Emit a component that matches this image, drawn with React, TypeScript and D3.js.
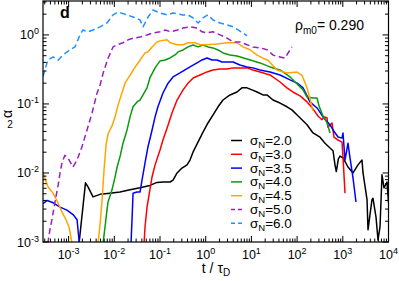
import * as d3 from "d3";

// sigma_N values and alpha_2(t) curves, t in units of tau_D
const sigmaLabels = ["2.0", "3.0", "3.5", "4.0", "4.5", "5.0", "6.0"];
const seriesColors = ["#000000", "#ff0000", "#0000ff", "#0a9a0a", "#ffa500", "#9a1fc0", "#1e90ff"];

const sigma20 = [[1.69e-3,0.00095],[2.34e-3,0.0072],[2.66e-3,0.0063],[3.42e-3,0.0045],[4.86e-3,0.0049],[8.0e-3,0.0051],[1.33e-2,0.0053],[2.21e-2,0.0057],[3.65e-2,0.0061],[6.0e-2,0.0066],[8.6e-2,0.0073],[0.116,0.0074],[0.166,0.0074],[0.193,0.0079],[0.236,0.0100],[0.303,0.0118],[0.39,0.0131],[0.453,0.0154],[0.527,0.020],[0.678,0.028],[0.873,0.039],[1.12,0.053],[1.44,0.069],[1.86,0.091],[2.39,0.114],[3.4,0.135],[4.84,0.149],[6.2,0.171],[8.0,0.171],[10.3,0.160],[13.3,0.149],[17.9,0.135],[21.9,0.135],[29.7,0.114],[42.3,0.103],[60,0.091],[77,0.082],[100,0.069],[128,0.059],[165,0.05],[223,0.038],[317,0.033],[408,0.027],[525,0.023],[611,0.021],[676,0.013],[720,0.0105],[800,0.016],[869,0.0176],[1010,0.0165],[1300,0.0122],[1672,0.010],[2150,0.0131],[2630,0.0154],[2770,0.010],[3390,0.0041],[3560,0.0015],[4350,0.0041],[4580,0.0043],[5330,0.0023],[5890,0.00107],[6520,0.00165],[7210,0.0094],[7980,0.0061],[9270,0.0074],[1e4,0.0037]];

const sigma30 = [[4.47e-2,0.00095],[4.7e-2,0.00165],[5.2e-2,0.0032],[6.0e-2,0.0057],[6.7e-2,0.0088],[7.8e-2,0.0131],[0.1,0.0215],[0.116,0.030],[0.143,0.045],[0.183,0.074],[0.236,0.114],[0.32,0.16],[0.41,0.2],[0.53,0.238],[0.75,0.263],[1.07,0.291],[1.44,0.311],[2.06,0.322],[2.93,0.322],[3.96,0.333],[5.62,0.333],[8.0,0.333],[10.8,0.311],[15.4,0.291],[25.5,0.263],[42.3,0.208],[60,0.171],[81,0.149],[116,0.131],[165,0.107],[223,0.085],[286,0.067],[351,0.059],[388,0.065],[451,0.063],[474,0.046],[580,0.053],[641,0.033],[785,0.030],[960,0.028],[1010,0.0171],[1117,0.0051]];

const sigma35Early = [[2.75e-4,0.0036],[3.4e-4,0.0040],[4.6e-4,0.0037],[6.5e-4,0.0032],[9.2e-4,0.0029],[1.25e-3,0.0025],[1.53e-3,0.0021],[1.72e-3,0.00095]];
const sigma35 = [[2.32e-2,0.00095],[2.44e-2,0.0021],[2.57e-2,0.0051],[3.14e-2,0.0053],[3.65e-2,0.0053],[4.04e-2,0.0079],[4.7e-2,0.014],[5.46e-2,0.024],[6.7e-2,0.042],[7.8e-2,0.065],[9.0e-2,0.091],[0.116,0.144],[0.15,0.2],[0.193,0.246],[0.274,0.281],[0.352,0.311],[0.453,0.344],[0.645,0.393],[0.83,0.434],[1.07,0.464],[1.37,0.434],[1.77,0.434],[2.27,0.406],[2.93,0.406],[3.96,0.406],[5.62,0.367],[8.0,0.344],[10.8,0.333],[15.4,0.311],[25.5,0.291],[42.3,0.263],[70,0.223],[100,0.2],[135,0.171],[165,0.131],[191,0.107],[273,0.0875],[369,0.065],[525,0.0496],[611,0.042],[785,0.0332],[960,0.032],[1010,0.038],[1117,0.0154],[1300,0.027],[1437,0.0165],[1672,0.0085],[1944,0.0038]];

const sigma40 = [[5.66e-3,0.00095],[6.26e-3,0.00165],[6.9e-3,0.0029],[7.3e-3,0.0038],[8.9e-3,0.0057],[1.04e-2,0.0088],[1.15e-2,0.0122],[1.33e-2,0.0171],[1.55e-2,0.027],[1.9e-2,0.042],[2.21e-2,0.065],[2.57e-2,0.091],[3.14e-2,0.107],[3.65e-2,0.114],[4.25e-2,0.135],[5.2e-2,0.171],[6.0e-2,0.238],[7.8e-2,0.333],[0.1,0.42],[0.129,0.434],[0.166,0.464],[0.213,0.513],[0.248,0.567],[0.32,0.606],[0.41,0.67],[0.53,0.716],[0.68,0.67],[0.87,0.716],[1.12,0.67],[1.44,0.648],[1.86,0.606],[2.39,0.548],[3.4,0.513],[4.84,0.496],[8.0,0.449],[15.4,0.393],[25.5,0.344],[42.3,0.311],[70,0.246],[100,0.195],[135,0.16],[165,0.126],[223,0.122],[273,0.122],[302,0.093],[369,0.067],[452,0.053],[525,0.038]];

const sigma45Early = [[2.75e-4,0.010],[3.54e-4,0.0063],[4.56e-4,0.0051],[5.86e-4,0.0037],[7.18e-4,0.0027],[8.77e-4,0.0021],[1.02e-3,0.00165],[1.19e-3,0.00095]];
const sigma45 = [[4.4e-3,0.00095],[4.86e-3,0.00176],[5.4e-3,0.0041],[5.95e-3,0.011],[6.6e-3,0.0255],[7.3e-3,0.037],[8.9e-3,0.048],[1.04e-2,0.065],[1.21e-2,0.097],[1.47e-2,0.144],[1.71e-2,0.2],[2.2e-2,0.26],[2.84e-2,0.34],[3.65e-2,0.43],[4.7e-2,0.55],[5.5e-2,0.57],[6.7e-2,0.67],[8.6e-2,0.79],[0.1,0.82],[0.143,0.85],[0.166,0.77],[0.236,0.72],[0.32,0.72],[0.41,0.77],[0.58,0.77],[0.75,0.72],[1.07,0.72],[1.77,0.74],[2.93,0.77],[4.84,0.77],[6.55,0.67],[9.3,0.61],[13.3,0.51],[17.9,0.46],[23.1,0.43],[36.3,0.31],[60,0.28],[100,0.29],[128,0.26],[165,0.17],[191,0.12],[223,0.079]];

const sigma50 = [[3.5e-4,0.00095],[3.9e-4,0.0015],[4.3e-4,0.0021],[5.0e-4,0.0037],[5.9e-4,0.0067],[6.5e-4,0.010],[7.2e-4,0.0144],[8.3e-4,0.018],[9.7e-4,0.0165],[1.25e-3,0.0122],[1.53e-3,0.0154],[1.96e-3,0.024],[2.53e-3,0.042],[3.25e-3,0.074],[4.2e-3,0.144],[4.9e-3,0.19],[5.7e-3,0.28],[7.3e-3,0.46],[9.4e-3,0.67],[1.15e-2,0.72],[1.55e-2,0.77],[2.0e-2,0.85],[2.6e-2,0.9],[3.65e-2,0.93],[5.2e-2,1.0],[7.0e-2,1.07],[0.1,1.11],[0.13,1.18],[0.17,1.11],[0.24,1.18],[0.32,1.26],[0.45,1.31],[0.65,1.26],[0.83,1.11],[1.07,1.07],[1.44,1.11],[2.06,1.0],[2.93,0.9],[4.0,0.79],[5.6,0.79],[8.0,0.72],[10.8,0.67],[15.4,0.65],[22,0.61],[30,0.51],[42,0.48],[54,0.46],[66,0.57],[77,0.67]];

const sigma60 = [[2.75e-4,0.25],[3.5e-4,0.43],[4.6e-4,0.48],[5.9e-4,0.43],[7.5e-4,0.51],[1.07e-3,0.61],[1.38e-3,0.67],[1.77e-3,1.0],[2.06e-3,1.18],[2.66e-3,1.11],[3.42e-3,1.18],[4.86e-3,1.31],[6.9e-3,1.49],[9.4e-3,1.95],[1.21e-2,2.15],[1.9e-2,1.95],[2.57e-2,1.82],[3.65e-2,1.65],[4.25e-2,1.31],[5.5e-2,1.82],[7.0e-2,2.3],[0.1,2.08],[0.143,1.95],[0.193,2.08],[0.32,1.95],[0.41,1.95],[0.53,1.76],[0.68,1.49],[0.87,1.76],[1.12,1.95],[1.44,1.65],[2.06,1.49],[2.93,1.40],[3.96,1.31],[5.1,1.18],[6.5,1.07],[8.0,0.97]];

const seriesSegments = [
  [sigma20],
  [sigma30],
  [sigma35Early, sigma35],
  [sigma40],
  [sigma45Early, sigma45],
  [sigma50],
  [sigma60],
];
const dashed = [false, false, false, false, false, true, true];

const xMajor = [-3, -2, -1, 0, 1, 2, 3, 4];
const yMajor = [-3, -2, -1, 0];

export default function App() {
  const width = 399;
  const height = 281;
  const L = 43, R = 388.5, T = 1, B = 242;

  const x = d3.scaleLog().domain([2.75e-4, 1e4]).range([L, R]);
  const y = d3.scaleLog().domain([1e-3, 3.1]).range([B, T]);
  const line = d3.line<number[]>().x((d) => x(d[0])).y((d) => y(d[1]));

  // minor ticks
  const xMinor: number[] = [];
  const yMinor: number[] = [];
  for (let e = -4; e <= 4; e++) {
    for (let k = 2; k <= 9; k++) {
      const v = k * Math.pow(10, e);
      if (v > x.domain()[0] && v < x.domain()[1]) xMinor.push(v);
      if (v > y.domain()[0] && v < y.domain()[1]) yMinor.push(v);
    }
  }
  const font = "'Liberation Sans', Arial, sans-serif";

  return (
    <svg width={width} height={height} style={{ position: "absolute", left: 0, top: 0 }} fontFamily={font}>
      <defs>
        <clipPath id="plot">
          <rect x={L} y={T} width={R - L} height={B - T} />
        </clipPath>
      </defs>
      <rect width={width} height={height} fill="#fff" />

      <g clipPath="url(#plot)" fill="none" strokeWidth={1.5} strokeLinejoin="round">
        {seriesSegments.map((segs, i) =>
          segs.map((seg, j) => (
            <path
              key={`${i}-${j}`}
              d={line(seg) || ""}
              stroke={seriesColors[i]}
              strokeDasharray={dashed[i] ? "6,3.5" : undefined}
            />
          ))
        )}
      </g>

      {/* frame and ticks */}
      <g stroke="#000" strokeWidth={1}>
        <rect x={L} y={T} width={R - L} height={B - T} fill="none" strokeWidth={1.2} />
        {xMajor.map((e) => {
          const px = x(Math.pow(10, e));
          return (
            <g key={`xm${e}`}>
              <line x1={px} x2={px} y1={B} y2={B - 6} />
              <line x1={px} x2={px} y1={T} y2={T + 6} />
            </g>
          );
        })}
        {xMinor.map((v, i) => (
          <g key={`xn${i}`}>
            <line x1={x(v)} x2={x(v)} y1={B} y2={B - 3.5} />
            <line x1={x(v)} x2={x(v)} y1={T} y2={T + 3.5} />
          </g>
        ))}
        {yMajor.map((e) => {
          const py = y(Math.pow(10, e));
          return (
            <g key={`ym${e}`}>
              <line x1={L} x2={L + 6} y1={py} y2={py} />
              <line x1={R} x2={R - 6} y1={py} y2={py} />
            </g>
          );
        })}
        {yMinor.map((v, i) => (
          <g key={`yn${i}`}>
            <line x1={L} x2={L + 3.5} y1={y(v)} y2={y(v)} />
            <line x1={R} x2={R - 3.5} y1={y(v)} y2={y(v)} />
          </g>
        ))}
      </g>

      {/* tick labels */}
      <g fill="#000" fontSize={12.5}>
        {xMajor.map((e) => (
          <text key={`xl${e}`} x={x(Math.pow(10, e))} y={259} textAnchor="middle">
            10<tspan fontSize={9} dy={-5}>{e}</tspan>
          </text>
        ))}
        {yMajor.map((e) => (
          <text key={`yl${e}`} x={39} y={y(Math.pow(10, e)) + 4.5} textAnchor="end">
            10<tspan fontSize={9} dy={-5}>{e}</tspan>
          </text>
        ))}
      </g>

      {/* axis titles */}
      <text x={216} y={273} textAnchor="middle" fontSize={14}>
        t / τ<tspan fontSize={10} dy={3}>D</tspan>
      </text>
      <text transform="translate(12,114) rotate(-90)" textAnchor="middle" fontSize={14}>α</text>
      <text x={10} y={128} textAnchor="middle" fontSize={10}>2</text>

      <text x={60} y={18} fontSize={16} fontWeight="bold">d</text>

      <text x={295} y={30} fontSize={14}>
        ρ<tspan fontSize={10} dy={4}>m0</tspan>
        <tspan dy={-4}>= 0.290</tspan>
      </text>

      {/* legend */}
      <g>
        {sigmaLabels.map((lab, i) => {
          const ry = 140.5 + i * 13.8;
          return (
            <g key={lab}>
              <line
                x1={231}
                x2={242}
                y1={ry}
                y2={ry}
                stroke={seriesColors[i]}
                strokeWidth={1.5}
                strokeDasharray={dashed[i] ? "4,3" : undefined}
              />
              <text x={250} y={ry + 4.5} fontSize={13.5}>
                σ<tspan fontSize={9.5} dy={3}>N</tspan>
                <tspan dy={-3}>={lab}</tspan>
              </text>
            </g>
          );
        })}
      </g>
    </svg>
  );
}
